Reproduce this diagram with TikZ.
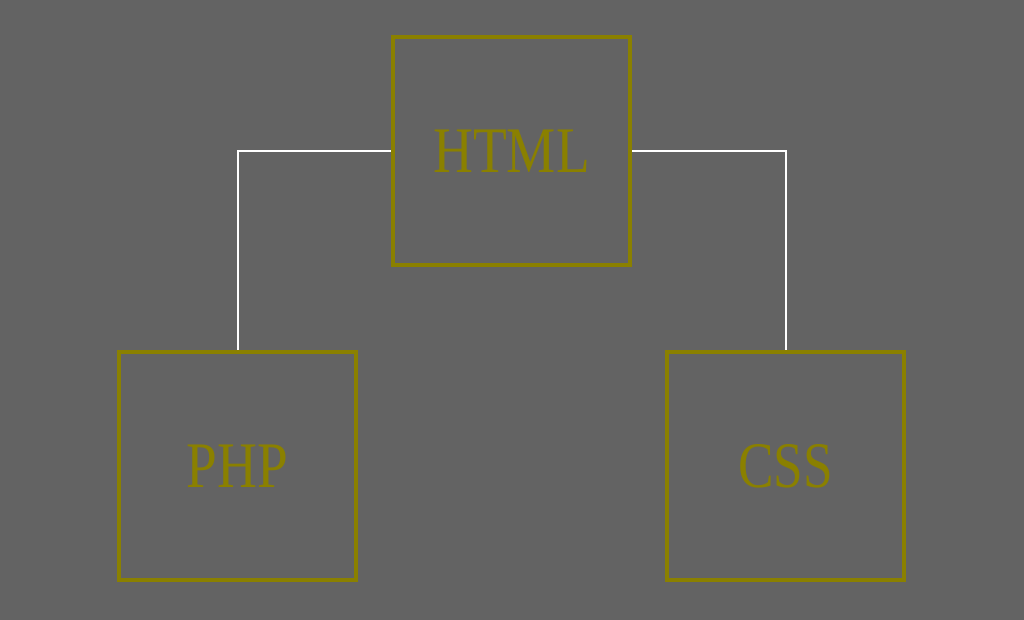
\documentclass[tikz,border=0pt]{standalone}
\usepackage{fontspec}
\setmainfont{Liberation Serif}
\definecolor{bg}{HTML}{636363}
\definecolor{olive}{HTML}{8A8000}
\begin{document}
\begin{tikzpicture}[x=1pt,y=1pt,
  box/.style={draw=olive, line width=4.5pt, minimum width=237pt, minimum height=228pt, inner sep=0pt, text=olive, font=\fontsize{65}{70}\selectfont},
  link/.style={draw=white, line width=2pt}]
\fill[bg] (0,0) rectangle (1024,620);
\useasboundingbox (0,0) rectangle (1024,620);
\node[box] (html) at (511.5,469) {\scalebox{0.85}[1]{HTML}};
\node[box] (php) at (237.5,154) {\scalebox{0.85}[1]{PHP}};
\node[box] (css) at (785.5,154) {\scalebox{0.82}[1]{CSS}};
\draw[link] (html.west) -| (php.north);
\draw[link] (html.east) -| (css.north);
\end{tikzpicture}
\end{document}
